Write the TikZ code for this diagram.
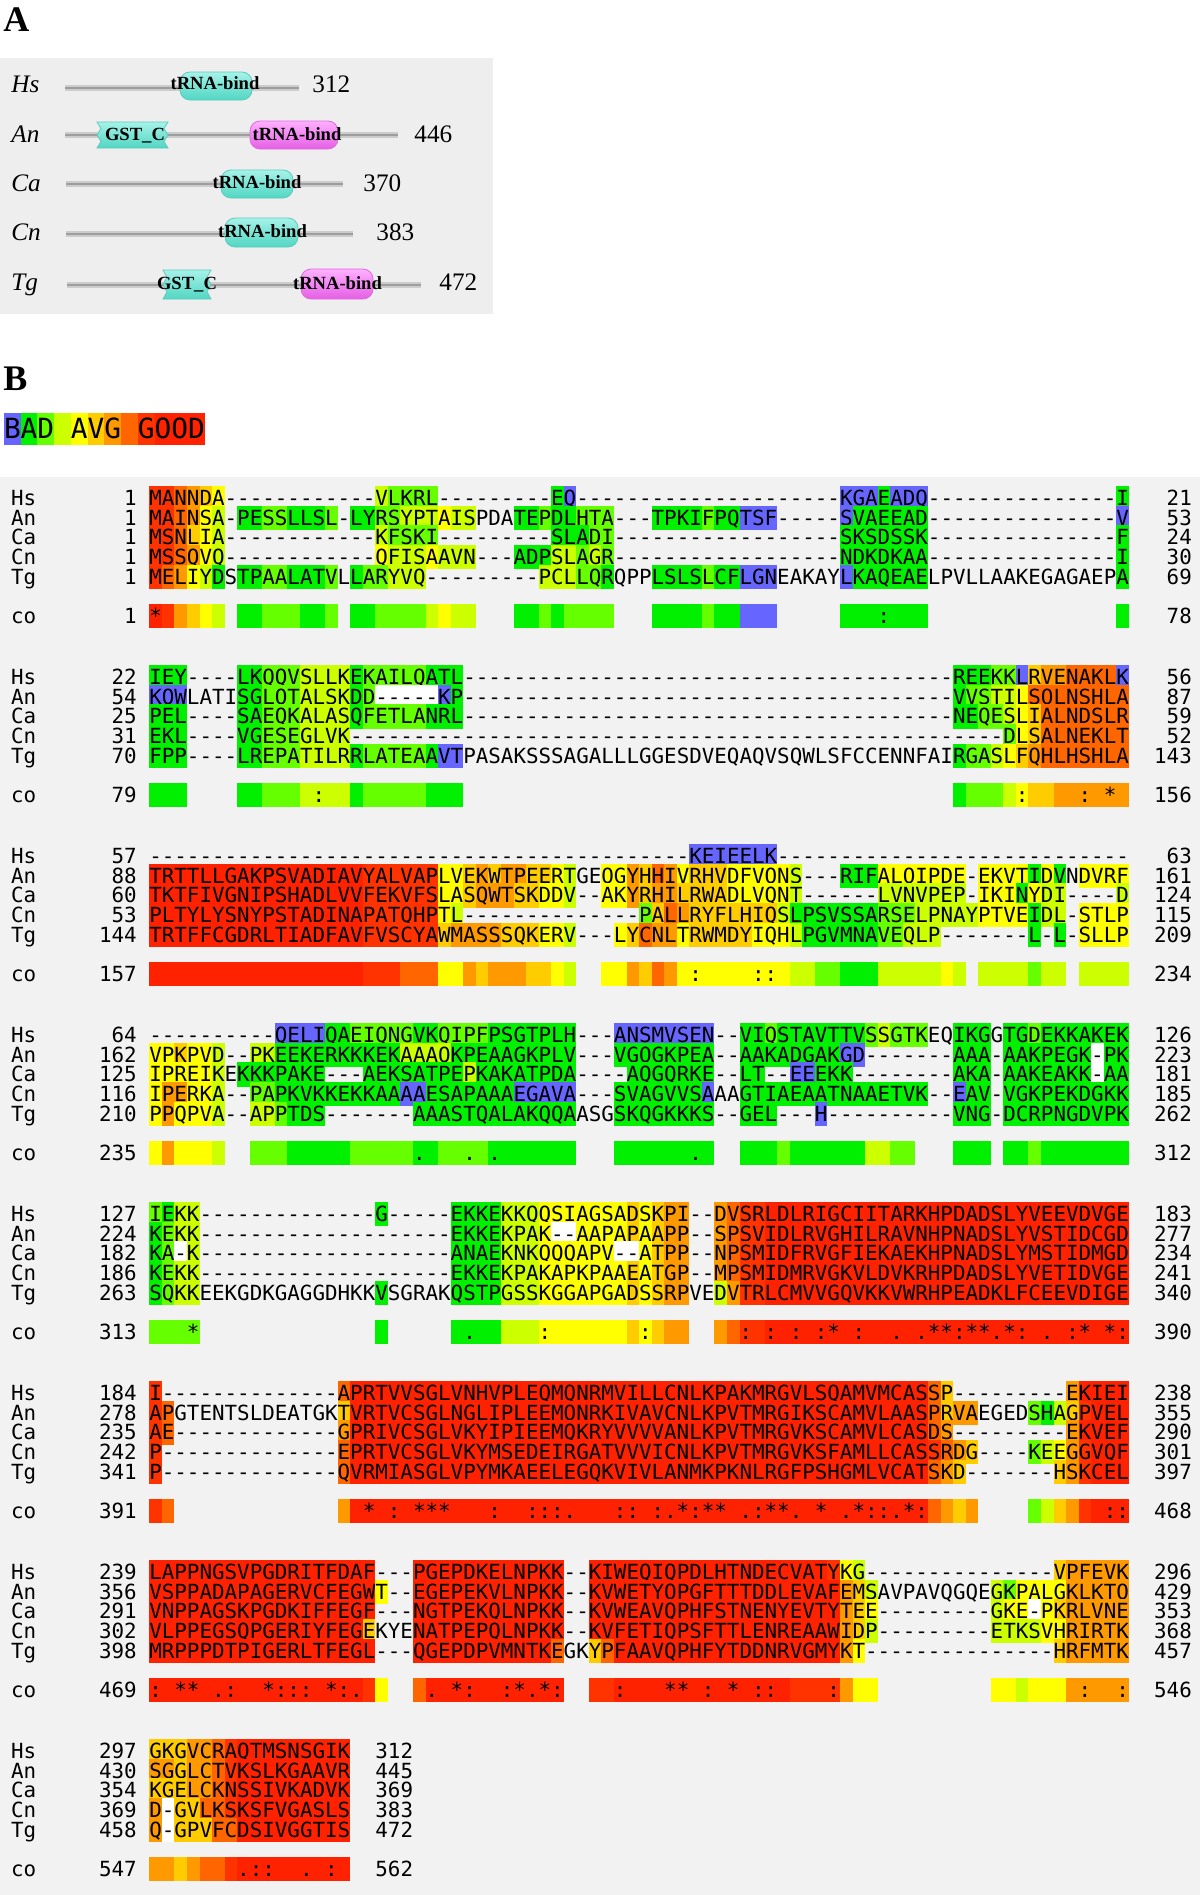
\documentclass[tikz,border=0pt]{standalone}
\usepackage{fontspec}
\setmainfont{Liberation Serif}
\setmonofont{DejaVu Sans Mono}
\setlength{\fboxsep}{0pt}
\definecolor{c0}{HTML}{6666FF}
\definecolor{c1}{HTML}{00F000}
\definecolor{c2}{HTML}{66FF00}
\definecolor{c3}{HTML}{CCFF00}
\definecolor{c4}{HTML}{FFFF00}
\definecolor{c5}{HTML}{FFCC00}
\definecolor{c6}{HTML}{FF9900}
\definecolor{c7}{HTML}{FF6600}
\definecolor{c8}{HTML}{FF3300}
\definecolor{c9}{HTML}{FF2200}
\definecolor{cW}{HTML}{FFFFFF}
\definecolor{bgA}{HTML}{EEEEEE}
\definecolor{bgB}{HTML}{F2F2F2}
\definecolor{cyT}{HTML}{A6F2E8}
\definecolor{cyB}{HTML}{52D6C3}
\definecolor{cyD}{HTML}{5CCBBB}
\definecolor{mgT}{HTML}{FFB0FF}
\definecolor{mgB}{HTML}{E45FE4}
\definecolor{mgD}{HTML}{DD6ADD}
\newcommand\rc[2]{\colorbox{c#1}{\rule[-0.236em]{0pt}{1.164em}#2}}
\makeatletter
\newcommand\rs[2]{\rs@a#1\relax#2\relax}
\def\rs@a#1#2\relax#3#4\relax{\rc{#1}{#3}\ifx\relax#2\relax\expandafter\@gobble\else\expandafter\@firstofone\fi{\rs@a#2\relax#4\relax}}
\makeatother
\ExplSyntaxOn
\cs_new:Npn \dsh #1 { \prg_replicate:nn {#1} { - } }
\cs_new:Npn \bsp #1 { \prg_replicate:nn {#1} { \nobreakspace } }
\ExplSyntaxOff
\def\rightx{1191.8}
\newcommand\seqrow[6]{%
\node[mono,anchor=base west] (#1L) at (11.1,#2) {#3};%
\node[mono,anchor=base east] (#1N) at (136.7,#2) {#4};%
\node[mono,anchor=base west] (#1S) at (149.3,#2) {#5};%
\node[mono,anchor=base east] (#1E) at (\rightx,#2) {#6};%
}
\begin{document}
\begin{tikzpicture}[x=0.5pt,y=-0.5pt,
  mono/.style={font=\ttfamily\fontsize{10.43pt}{10pt}\selectfont,inner sep=0pt,outer sep=0pt},
  panel/.style={font=\bfseries\fontsize{18pt}{18pt}\selectfont,anchor=base west,inner sep=0pt},
  spl/.style={font=\itshape\fontsize{12.6pt}{13pt}\selectfont,anchor=base west,inner sep=0pt},
  numl/.style={font=\fontsize{12.6pt}{13pt}\selectfont,anchor=base west,inner sep=0pt},
  dtext/.style={font=\bfseries\fontsize{9.3pt}{10pt}\selectfont,anchor=base,inner sep=0pt},
  barout/.style={line width=2.6pt,draw=black!20},
  barin/.style={line width=1pt,draw=black!38},
  cypill/.style={top color=cyT,bottom color=cyB,draw=cyD,line width=0.4pt,rounded corners=5pt},
  mgpill/.style={top color=mgT,bottom color=mgB,draw=mgD,line width=0.4pt,rounded corners=5pt},
  cyjag/.style={top color=cyT,bottom color=cyB,draw=cyD,line width=0.4pt}]
\useasboundingbox (0,0) rectangle (1200,1895);
\fill[white] (0,0) rectangle (1200,1895);
% ---------------- panel A
\fill[bgA] (0,58) rectangle (493,314);
\node[panel] (pA) at (3,32) {A};
\node[spl] (aHs) at (11,92) {Hs};
\node[spl] (aAn) at (11,142) {An};
\node[spl] (aCa) at (11,191) {Ca};
\node[spl] (aCn) at (11,240) {Cn};
\node[spl] (aTg) at (11,290) {Tg};
\draw[barout] (65,88) -- (299,88); \draw[barin] (65,88) -- (299,88);
\draw[barout] (65,135) -- (398,135); \draw[barin] (65,135) -- (398,135);
\draw[barout] (66,184) -- (343,184); \draw[barin] (66,184) -- (343,184);
\draw[barout] (66,234) -- (353,234); \draw[barin] (66,234) -- (353,234);
\draw[barout] (67,285) -- (421,285); \draw[barin] (67,285) -- (421,285);
\draw[cypill] (180,72) rectangle (252,100);
\draw[cyjag] (97,122) -- (101,128.5) -- (97,135) -- (101,141.5) -- (97,148) -- (168,148) -- (164,141.5) -- (168,135) -- (164,128.5) -- (168,122) -- cycle;
\draw[mgpill] (250,121) rectangle (338,149);
\draw[cypill] (221,170) rectangle (293,198);
\draw[cypill] (225,218) rectangle (298,247);
\draw[cyjag] (163,270) -- (167,277.25) -- (163,284.5) -- (167,291.75) -- (163,299) -- (211,299) -- (207,291.75) -- (211,284.5) -- (207,277.25) -- (211,270) -- cycle;
\draw[mgpill] (301,269) rectangle (373,299);
\node[dtext] (dHs) at (215,89) {tRNA-bind};
\node[dtext] (dAnG) at (135,140) {GST\_C};
\node[dtext] (dAnT) at (297,140.5) {tRNA-bind};
\node[dtext] (dCa) at (257,188) {tRNA-bind};
\node[dtext] (dCn) at (262.5,237) {tRNA-bind};
\node[dtext] (dTgG) at (187,289) {GST\_C};
\node[dtext] (dTgT) at (337.5,289) {tRNA-bind};
\node[numl] (nHs) at (312,92) {312};
\node[numl] (nAn) at (414,142) {446};
\node[numl] (nCa) at (363,191) {370};
\node[numl] (nCn) at (376,240) {383};
\node[numl] (nTg) at (439,290) {472};
% ---------------- panel B
\node[panel] (pB) at (3,390) {B};
\node[inner sep=0pt,outer sep=0pt,anchor=base west,font=\ttfamily\fontsize{13.9pt}{14pt}\selectfont] (legend) at (4,438.8) {\rs{012345678999}{BAD~AVG~GOOD}};
\fill[bgB] (0,477) rectangle (1200,1895);
% block 1
\seqrow{b1hs}{505.5}{Hs}{1}{\rs{887654}{MANNDA}\dsh{12}\rs{32222}{VLKRL}\dsh{9}\rs{10}{EQ}\dsh{21}\rs{0001000}{KGAEADQ}\dsh{15}\rc{1}{I}}{21}
\seqrow{b1an}{525.15}{An}{1}{\rs{887643}{MAINSA}-\rs{11221112}{PESSLLSL}-\rs{1122333433}{LYRSYPTAIS}PDA\rs{11211222}{TEPDLHTA}\dsh{3}\rs{1111211}{TPKIFPQ}\rc{0}{TSF}\dsh{5}\rs{0111111}{SVAEEAD}\dsh{15}\rc{0}{V}}{53}
\seqrow{b1ca}{544.8}{Ca}{1}{\rs{887543}{MSNLIA}\dsh{12}\rs{32222}{KFSKI}\dsh{9}\rs{11122}{SLADI}\dsh{18}\rc{1}{SKSDSSK}\dsh{15}\rc{1}{F}}{24}
\seqrow{b1cn}{564.45}{Cn}{1}{\rs{887643}{MSSQVQ}\dsh{12}\rs{43334333}{QFISAAVN}\dsh{3}\rs{11133232}{ADPSLAGR}\dsh{18}\rc{1}{NDKDKAA}\dsh{15}\rc{1}{I}}{30}
\seqrow{b1tg}{584.1}{Tg}{1}{\rs{876431}{MELIYD}S\rs{11221112}{TPAALATV}L\rs{122333}{LARYVQ}\dsh{9}\rs{333221}{PCLLQR}QPP\rs{1111211}{LSLSLCF}\rc{0}{LGN}EAKAY\rc{0}{L}\rc{1}{KAQEAE}LPVLLAAKEGAGAEP\rc{1}{A}}{69}
\seqrow{b1co}{623.5}{co}{1}{\rc{9}{*}\rs{86543}{~~~~~}~\rc{1}{~~}\rc{2}{~~~}\rc{1}{~~}\rc{2}{~}~\rc{1}{~~}\rc{2}{~~~~}\rc{3}{~}\rc{4}{~}\rc{3}{~~}~~~\rc{1}{~~}\rc{2}{~}\rc{1}{~}\rc{2}{~~~~}~~~\rc{1}{~~~~}\rc{2}{~}\rc{1}{~~}\rc{0}{~~~}~~~~~\rc{1}{~~~:~~~}\bsp{15}\rc{1}{~}}{78}
% block 2
\begin{scope}[shift={(0,179)}]
\seqrow{b2hs}{505.5}{Hs}{22}{\rc{1}{IEY}\dsh{4}\rs{112223333122222111}{LKQQVSLLKEKAILQATL}\dsh{39}\rs{11122}{REEKK}\rc{0}{L}\rs{5667777}{RVENAKL}\rc{0}{K}}{56}
\seqrow{b2an}{525.15}{An}{54}{\rc{0}{KQW}LATI\rs{11222333312}{SGLQTALSKDD}\rc{W}{-----}\rc{0}{K}\rc{1}{P}\dsh{39}\rs{12233477777777}{VVSTILSQLNSHLA}}{87}
\seqrow{b2ca}{544.8}{Ca}{25}{\rc{1}{PEL}\dsh{4}\rs{112223333122222111}{SAEQKALASQFETLANRL}\dsh{39}\rs{11223457777777}{NEQESLIALNDSLR}}{59}
\seqrow{b2cn}{564.45}{Cn}{31}{\rc{1}{EKL}\dsh{4}\rs{112223333}{VGESEGLVK}\dsh{52}\rs{2457777777}{DLSALNEKLT}}{52}
\seqrow{b2tg}{584.1}{Tg}{70}{\rc{1}{FPP}\dsh{4}\rs{1122233331222221}{LREPATILRRLATEAA}\rc{0}{VT}PASAKSSSAGALLLGGESDVEQAQVSQWLSFCCENNFAI\rs{12234567777777}{RGASLFQHLHSHLA}}{143}
\seqrow{b2co}{623.5}{co}{79}{\rc{1}{~~~}~~~~\rc{1}{~~}\rc{2}{~~~}\rc{3}{~:~~}\rc{1}{~}\rc{2}{~~~~~}\rc{1}{~~~}\bsp{39}\rc{1}{~}\rc{2}{~~~}\rc{3}{~}\rc{4}{:}\rc{5}{~~}\rc{6}{~~:~*~}}{156}
\end{scope}
% block 3
\begin{scope}[shift={(0,358)}]
\seqrow{b3hs}{505.5}{Hs}{57}{\dsh{43}\rc{0}{KEIEELK}\dsh{28}}{63}
\seqrow{b3an}{525.15}{An}{88}{\rc{9}{TRTTLLGAKPSVADIAV}\rc{8}{YALVAP}\rs{44565665543}{LVEKWTPEERT}GE\rs{4465764}{QGYHHIV}\rs{555444443}{RHVDFVQNS}\dsh{3}\rs{1114444444}{RIFALQIPDE}-\rs{4444141}{EKVTIDV}N\rc{4}{DVRF}}{161}
\seqrow{b3ca}{544.8}{Ca}{60}{\rc{9}{TKTFIVGNIPSHADLVV}\rc{8}{FEKVFS}\rs{44566655443}{LASQWTSKDDV}\dsh{2}\rs{4465665}{AKYRHIL}\rs{555444443}{RWADLVQNT}\dsh{6}\rc{3}{LVNVPEP}-\rs{4441433}{IKINYDI}\dsh{4}\rc{3}{D}}{124}
\seqrow{b3cn}{564.45}{Cn}{53}{\rc{9}{PLTYLYSNYPSTADINA}\rc{8}{PATQHP}\rs{43}{TL}\dsh{14}\rs{2576}{PALL}\rc{5}{RYFLHIQ}\rs{31111111222}{SLPSVSSARSE}\rc{3}{LPNAY}\rs{4444133}{PTVEIDL}-\rc{4}{STLP}}{115}
\seqrow{b3tg}{584.1}{Tg}{144}{\rc{9}{TRTFFCGDRLTIADFAV}\rc{8}{FVSCYA}\rs{56666555443}{WMASSSQKERV}\dsh{3}\rs{457664}{LYCNLT}\rs{555554443}{RWMDYIQHL}\rs{11111122333}{PGVMNAVEQLP}\dsh{7}\rc{1}{L}-\rc{1}{L}-\rc{4}{SLLP}}{209}
\seqrow{b3co}{623.5}{co}{157}{\rc{9}{\bsp{17}}\rc{8}{~~~}\rc{7}{~~~}\rc{4}{~~}\rc{6}{~}\rc{5}{~}\rc{6}{~~~}\rc{5}{~~}\rc{4}{~}\rc{3}{~}~~\rc{4}{~~}\rc{6}{~}\rc{5}{~}\rc{7}{~}\rc{6}{~}\rc{4}{~:~~~~::~}\rc{3}{~~}\rc{2}{~~}\rc{1}{~~~}\rc{3}{~~~~~}\rc{4}{~}\rc{3}{~}~\rc{3}{~~~~}\rc{2}{~}\rc{3}{~~}~\rc{3}{~~~~}}{234}
\end{scope}
% block 4
\begin{scope}[shift={(0,537)}]
\seqrow{b4hs}{505.5}{Hs}{64}{\dsh{10}\rc{0}{QELI}\rs{11222221122221111111}{QAEIQNGVKQIPFPSGTPLH}\dsh{3}\rc{0}{ANSMVSEN}\dsh{2}\rs{1121111111}{VIQSTAVTTV}\rs{23222}{SSGTK}EQ\rc{1}{IKG}G\rs{1121111111}{TGDEKKAKEK}}{126}
\seqrow{b4an}{525.15}{An}{162}{\rs{445443}{VPKPVD}\dsh{2}\rs{33111111111133331111111111}{PKEEKERKKKEKAAAQKPEAAGKPLV}\dsh{3}\rc{1}{VGQGKPEA}\dsh{2}\rc{1}{AAKADGAK}\rc{0}{GD}\dsh{7}\rc{1}{AAA}-\rc{1}{AAKPEGK}\rc{W}{-}\rc{1}{PK}}{223}
\seqrow{b4ca}{544.8}{Ca}{125}{\rs{444443}{IPREIK}E\rc{1}{KKKPAKE}\dsh{3}\rs{11111111311111111}{AEKSATPEPKAKATPDA}\dsh{4}\rc{1}{AQGQRKE}\dsh{2}\rc{1}{LT}\dsh{2}\rs{00111}{EEEKK}\dsh{8}\rc{1}{AKA}-\rc{1}{AAKEAKK}\rc{W}{-}\rc{1}{AA}}{181}
\seqrow{b4cn}{564.45}{Cn}{116}{\rs{466443}{IPERKA}\dsh{2}\rs{221111111111}{PAPKVKKEKKAA}\rc{0}{AA}\rc{1}{ESAPAAA}\rc{0}{EGAVA}\dsh{3}\rc{1}{SVAGVVS}\rc{0}{A}AA\rc{1}{GTIAEAATNAAETVK}\dsh{2}\rc{0}{E}\rc{1}{AV}-\rc{1}{VGKPEKDGKK}}{185}
\seqrow{b4tg}{584.1}{Tg}{210}{\rs{464443}{PPQPVA}\dsh{2}\rs{332111}{APPTDS}\dsh{7}\rc{1}{AAASTQALAKQQA}ASG\rc{1}{SKQGKKKS}\dsh{2}\rc{1}{GEL}\dsh{3}\rc{0}{H}\dsh{10}\rc{1}{VNG}-\rc{1}{DCRPNGDVPK}}{262}
\seqrow{b4co}{623.5}{co}{235}{\rc{4}{~}\rc{6}{~}\rc{4}{~~~}\rc{3}{~}~~\rc{2}{~~~}\rc{1}{~~~~~}\rc{2}{~~~~~}\rc{1}{.~}\rc{2}{~~.~}\rc{1}{.~~~~~~}~~~\rc{1}{~~~~~~.~}~~\rc{1}{~~~}\rc{2}{~}\rc{1}{~~~~~~}\rc{3}{~~}\rc{2}{~~}~~~\rc{1}{~~~}~\rc{1}{~~}\rc{2}{~}\rc{1}{~~~~~~~}}{312}
\end{scope}
% block 5
\begin{scope}[shift={(0,716)}]
\seqrow{b5hs}{505.5}{Hs}{127}{\rs{2133}{IEKK}\dsh{14}\rc{1}{G}\dsh{5}\rs{1111333444444454566}{EKKEKKQQSIAGSADSKPI}\dsh{2}\rs{6788}{DVSR}\rc{9}{LDLRIGCIITARKHPDADSLYVEEVDVGE}}{183}
\seqrow{b5an}{525.15}{An}{224}{\rs{1233}{KEKK}\dsh{20}\rs{11113334}{EKKEKPAK}\rc{W}{--}\rs{444454566}{AAPAPAAPP}\dsh{2}\rs{6788}{SPSV}\rc{9}{IDLRVGHILRAVNHPNADSLYVSTIDCGD}}{277}
\seqrow{b5ca}{544.8}{Ca}{182}{\rs{12}{KA}\rc{W}{-}\rc{3}{K}\dsh{20}\rs{1111333444444}{ANAEKNKQQQAPV}\rc{W}{--}\rs{4566}{ATPP}\dsh{2}\rs{6788}{NPSM}\rc{9}{IDFRVGFIEKAEKHPNADSLYMSTIDMGD}}{234}
\seqrow{b5cn}{564.45}{Cn}{186}{\rs{1233}{KEKK}\dsh{20}\rs{1111333444444454566}{EKKEKPAKAPKPAAEATGP}\dsh{2}\rs{6788}{MPSM}\rc{9}{IDMRVGKVLDVKRHPDADSLYVETIDVGE}}{241}
\seqrow{b5tg}{584.1}{Tg}{263}{\rs{1233}{SQKK}EEKGDKGAGGDHKK\rc{1}{V}SGRAK\rs{1111333444444454566}{QSTPGSSKGGAPGADSSRP}VE\rs{3688}{DVTR}\rc{9}{LCMVVGQVKKVWRHPEADKLFCEEVDIGE}}{340}
\seqrow{b5co}{623.5}{co}{313}{\rc{2}{~~~*}\bsp{14}\rc{1}{~}\bsp{5}\rc{1}{~.~~}\rc{3}{~~~}\rc{4}{:~~~~~~}\rc{5}{~}\rc{4}{:}\rc{5}{~}\rc{6}{~~}~~\rc{6}{~}\rc{7}{~}\rc{8}{:~}\rc{9}{:~:~:*~:~~.~.**:**.*:~.~:*~*:}}{390}
\end{scope}
% block 6
\begin{scope}[shift={(0,895)}]
\seqrow{b6hs}{505.5}{Hs}{184}{\rc{8}{I}\dsh{14}\rc{7}{A}\rc{9}{PRTVVSGLVNHVPLEQMQNRMVILLCNLKPAKMRGVLSQAMVMCAS}\rc{7}{S}\rc{5}{P}\dsh{9}\rs{69999}{EKIEI}}{238}
\seqrow{b6an}{525.15}{An}{278}{\rs{87}{AP}GTENTSLDEATGK\rc{5}{T}\rc{9}{VRTVCSGLNGLIPLEEMQNRKIVAVCNLKPVTMRGIKSCAMVLAAS}\rc{7}{P}\rc{5}{R}\rc{6}{VA}EGED\rs{213}{SHA}\rc{5}{G}\rs{8999}{PVEL}}{355}
\seqrow{b6ca}{544.8}{Ca}{235}{\rs{87}{AE}\dsh{13}\rc{6}{G}\rc{9}{PRIVCSGLVKYIPIEEMQKRYVVVVANLKPVTMRGVKSCAMVLCAS}\rc{7}{D}\rc{6}{S}\dsh{9}\rs{69999}{EKVEF}}{290}
\seqrow{b6cn}{564.45}{Cn}{242}{\rc{8}{P}\dsh{14}\rc{7}{E}\rc{9}{PRTVCSGLVKYMSEDEIRGATVVVICNLKPVTMRGVKSFAMLLCAS}\rs{8765}{SRDG}\dsh{4}\rs{23468999}{KEEGGVQF}}{301}
\seqrow{b6tg}{584.1}{Tg}{341}{\rc{8}{P}\dsh{14}\rc{7}{Q}\rc{9}{VRMIASGLVPYMKAEELEGQKVIVLANMKPKNLRGFPSHGMLVCAT}\rs{765}{SKD}\dsh{7}\rs{568999}{HSKCEL}}{397}
\seqrow{b6co}{623.5}{co}{391}{\rc{8}{~}\rc{7}{~}\bsp{13}\rc{6}{~}\rc{9}{~*~:~***~~~:~~:::.~~~::~:.*:**~.:**.~*~.*::.*:}\rc{7}{~}\rc{6}{~}\rc{5}{~}\rc{6}{~}~~~~\rc{2}{~}\rc{3}{~}\rc{5}{~}\rc{6}{~}\rc{8}{~}\rc{9}{~::}}{468}
\end{scope}
% block 7
\begin{scope}[shift={(0,1074)}]
\seqrow{b7hs}{505.5}{Hs}{239}{\rc{9}{LAPPNGSVPGDRITFDAF}\dsh{3}\rc{9}{PGEPDKELNPKK}\dsh{2}\rc{9}{KIWEQIQPDLHTNDECVAT}\rs{843}{YKG}\dsh{15}\rs{566666}{VPFEVK}}{296}
\seqrow{b7an}{525.15}{An}{356}{\rc{9}{VSPPADAPAGERVCFEGW}\rc{4}{T}\dsh{2}\rc{9}{EGEPEKVLNPKK}\dsh{2}\rc{9}{KVWETYQPGFTTTDDLEVAF}\rs{653}{EMS}AVPAVQGQE\rs{32444466666}{GKPALGKLKTQ}}{429}
\seqrow{b7ca}{544.8}{Ca}{291}{\rc{9}{VNPPAGSKPGDKIFFEGF}\dsh{3}\rc{9}{NGTPEKQLNPKK}\dsh{2}\rc{9}{KVWEAVQPHFSTNENYEVTY}\rs{654}{TEE}\dsh{9}\rs{344}{GKE}\rc{W}{-}\rs{4566666}{PKRLVNE}}{353}
\seqrow{b7cn}{564.45}{Cn}{302}{\rc{9}{VLPPEGSQPGERIYFEG}\rc{5}{E}KYE\rc{9}{NATPEPQLNPKK}\dsh{2}\rc{9}{KVFETIQPSFTTLENREAAW}\rs{653}{IDP}\dsh{9}\rs{33334466666}{ETKSVHRIRTK}}{368}
\seqrow{b7tg}{584.1}{Tg}{398}{\rc{9}{MRPPPDTPIGERLTFEGL}\dsh{3}\rc{9}{QGEPDPVMNTK}\rc{7}{E}GK\rs{57}{YP}\rc{9}{FAAVQPHFYTDDNRVGMY}\rs{64}{KT}\dsh{15}\rs{566666}{HRFMTK}}{457}
\seqrow{b7co}{623.5}{co}{469}{\rc{9}{:~**~.:~~*:::~*:.}\rc{8}{~}\rc{4}{~}~~\rc{7}{~}\rc{9}{.~*:~~:*.*:}~~\rc{8}{~~}\rc{9}{:~~~**~:~*~::~}\rc{8}{~~~:}\rc{6}{~}\rc{4}{~~}\bsp{9}\rc{4}{~~}\rc{3}{~}\rc{4}{~~~}\rc{6}{~:~~:}}{546}
\end{scope}
% block 8
\def\rightx{413.1}
\begin{scope}[shift={(0,1253)}]
\seqrow{b8hs}{505.5}{Hs}{297}{\rs{5556678}{GKGVCRA}\rc{9}{QTMSNSGIK}}{312}
\seqrow{b8an}{525.15}{An}{430}{\rs{6656678}{SGGLCTV}\rc{9}{KSLKGAAVR}}{445}
\seqrow{b8ca}{544.8}{Ca}{354}{\rs{5556678}{KGELCKN}\rc{9}{SSIVKADVK}}{369}
\seqrow{b8cn}{564.45}{Cn}{369}{\rc{6}{D}\rc{W}{-}\rs{55778}{GVLKS}\rc{9}{KSFVGASLS}}{383}
\seqrow{b8tg}{584.1}{Tg}{458}{\rc{6}{Q}\rc{W}{-}\rs{55577}{GPVFC}\rc{9}{DSIVGGTIS}}{472}
\seqrow{b8co}{623.5}{co}{547}{\rc{6}{~~}\rc{5}{~}\rc{6}{~}\rc{7}{~~}\rc{8}{~}\rc{9}{.::~~.~:~}}{562}
\end{scope}
\end{tikzpicture}
\end{document}
